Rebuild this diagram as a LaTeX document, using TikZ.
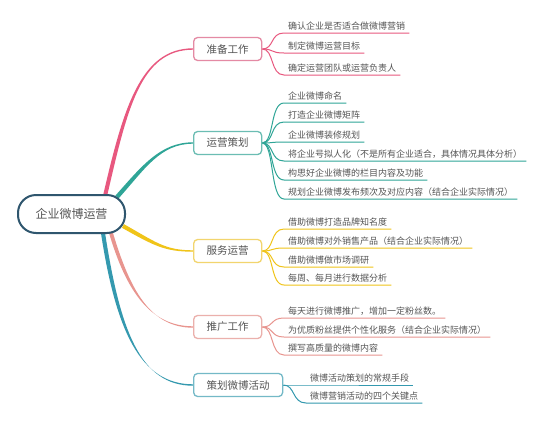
\documentclass[tikz,border=0pt]{standalone}
\usepackage{fontspec}
\setmainfont{Noto Sans CJK SC}
\usetikzlibrary{calc,backgrounds}
\definecolor{txt}{HTML}{555555}
\definecolor{rootc}{HTML}{2F566E}
\definecolor{pinkL}{HTML}{E8587F}
\definecolor{pinkB}{HTML}{E48AA4}
\definecolor{tealL}{HTML}{2FA597}
\definecolor{tealB}{HTML}{6BBDB3}
\definecolor{yelL}{HTML}{F0C419}
\definecolor{yelB}{HTML}{F2D56E}
\definecolor{salL}{HTML}{E8958F}
\definecolor{salB}{HTML}{EBB0AC}
\definecolor{blueL}{HTML}{3499AF}
\definecolor{blueB}{HTML}{74B9C7}
\newcommand{\tapercurve}[7]{%
 \fill[#1] ($(#2)+(#6,#7)$) .. controls ($(#3)+(#6,#7)$) and ($(#4)+(0,0.7)$) .. ($(#5)+(0,0.7)$) -- ($(#5)+(0,-0.7)$) .. controls ($(#4)+(0,-0.7)$) and ($(#3)-(#6,#7)$) .. ($(#2)-(#6,#7)$) -- cycle;}
\tikzset{
 rootbox/.style={draw=rootc, line width=2pt, fill=white, rounded corners=18pt, minimum width=107pt, minimum height=38pt, inner sep=0pt, font=\fontsize{12}{12}\selectfont, text=txt},
 branchbox/.style={draw=#1, line width=1.3pt, fill=white, rounded corners=4pt, minimum height=23pt, inner xsep=13pt, inner ysep=0pt, anchor=west, font=\fontsize{10.5}{10.5}\selectfont, text=txt},
 leaf/.style={anchor=south west, inner xsep=4pt, inner ysep=2.5pt, font=\fontsize{9}{9}\selectfont, text=txt},
 leafline/.style={draw=#1, line width=1pt},
}
\begin{document}
\begin{tikzpicture}[x=1pt,y=-1pt]
\useasboundingbox (0,0) rectangle (550,421);
% root
\node[rootbox] (root) at (71.5,214) {企业微博运营};
% branch nodes
\node[branchbox=pinkB] (b1) at (193,49) {准备工作};
\node[branchbox=tealB] (b2) at (193,143) {运营策划};
\node[branchbox=yelB] (b3) at (193,251) {服务运营};
\node[branchbox=salB] (b4) at (193,327) {推广工作};
\node[branchbox=blueB] (b5) at (193,385) {策划微博活动};
% root connector start points
\coordinate (s1) at (105,196);
\coordinate (s2) at (117,197);
\coordinate (s3) at (123,226);
\coordinate (s4) at (111,233);
\coordinate (s5) at (103,233);
% leaves of b1
\node[leaf] (l11) at (284,33) {确认企业是否适合做微博营销};
\node[leaf] (l12) at (284,53) {制定微博运营目标};
\node[leaf] (l13) at (284,75) {确定运营团队或运营负责人};
% leaves of b2
\node[leaf] (l21) at (284,103) {企业微博命名};
\node[leaf] (l22) at (284,122) {打造企业微博矩阵};
\node[leaf] (l23) at (284,142) {企业微博装修规划};
\node[leaf] (l24) at (284,161) {将企业号拟人化（不是所有企业适合，具体情况具体分析）};
\node[leaf] (l25) at (284,180) {构思好企业微博的栏目内容及功能};
\node[leaf] (l26) at (284,199) {规划企业微博发布频次及对应内容（结合企业实际情况）};
% leaves of b3
\node[leaf] (l31) at (284,229) {借助微博打造品牌知名度};
\node[leaf] (l32) at (284,248) {借助微博对外销售产品（结合企业实际情况）};
\node[leaf] (l33) at (284,267) {借助微博做市场调研};
\node[leaf] (l34) at (284,285) {每周、每月进行数据分析};
% leaves of b4
\node[leaf] (l41) at (284,318) {每天进行微博推广，增加一定粉丝数。};
\node[leaf] (l42) at (284,337) {为优质粉丝提供个性化服务（结合企业实际情况）};
\node[leaf] (l43) at (284,355) {撰写高质量的微博内容};
% leaves of b5
\node[leaf] (l51) at (306,385) {微博活动策划的常规手段};
\node[leaf] (l52) at (306,403) {微博营销活动的四个关键点};
\begin{scope}[on background layer]
\fill[white] (0,0) rectangle (550,421);
\tapercurve{pinkL}{s1}{125,110}{140,49}{b1.west}{2}{0.3}
\tapercurve{tealL}{s2}{143,168}{160,143}{b2.west}{1.6}{1.4}
\tapercurve{yelL}{s3}{155,244}{165,251}{b3.west}{-1}{1.8}
\tapercurve{salL}{s4}{128,290}{150,327}{b4.west}{1.8}{-0.6}
\tapercurve{blueL}{s5}{118,330}{140,385}{b5.west}{2}{-0.4}
\foreach \b/\l/\c in {b1/l11/pinkL,b1/l12/pinkL,b1/l13/pinkL,
  b2/l21/tealL,b2/l22/tealL,b2/l23/tealL,b2/l24/tealL,b2/l25/tealL,b2/l26/tealL,
  b3/l31/yelL,b3/l32/yelL,b3/l33/yelL,b3/l34/yelL,
  b4/l41/salL,b4/l42/salL,b4/l43/salL,
  b5/l51/blueL,b5/l52/blueL}{
  \draw[leafline=\c] (\b.east) .. controls +(12,0) and +(-14,0) .. (\l.south west) -- (\l.south east);
}
\end{scope}
\end{tikzpicture}
\end{document}
